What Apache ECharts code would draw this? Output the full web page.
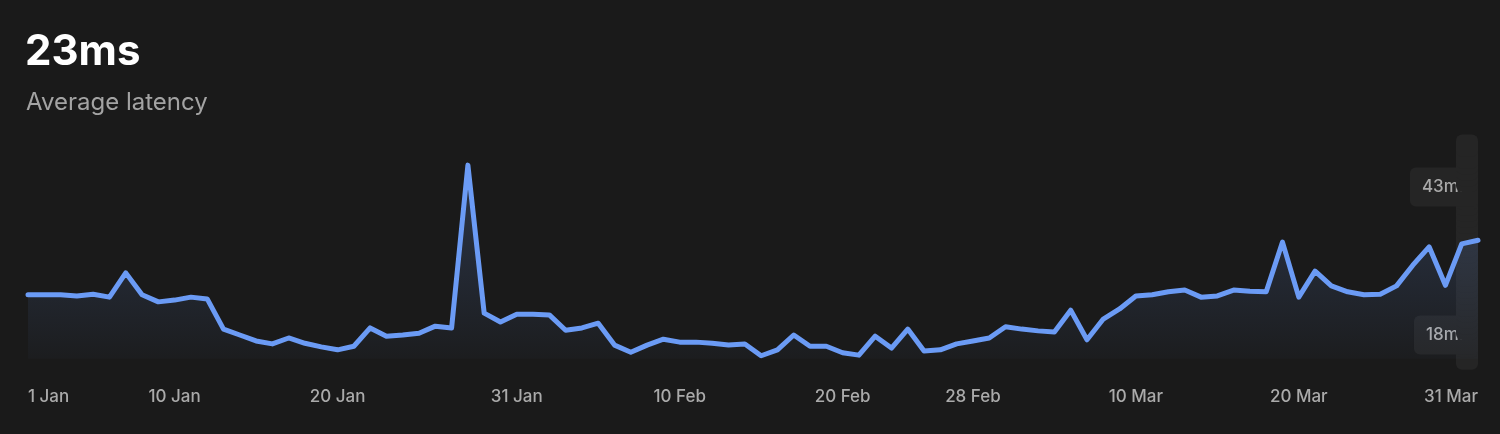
<!DOCTYPE html>
<html><head><meta charset="utf-8">
<script src="https://cdn.jsdelivr.net/npm/echarts@6/dist/echarts.min.js"></script>
<style>html,body{margin:0;padding:0;background:#1a1a1a;}#c{width:1500px;height:434px;}</style>
</head><body><div id="c"></div>
<script>
const months = ['Jan','Feb','Mar'];
const monthDays = [31, 28, 31];
const latency = [24.8,24.8,24.8,24.6,24.9,24.4,28.5,24.8,23.6,23.9,24.4,24.1,19.0,18.0,17.0,16.5,17.5,16.6,16.0,15.5,
16.1,19.2,17.8,18.0,18.3,19.5,19.2,46.7,21.7,20.2,21.5,21.5,21.4,18.8,19.2,20.0,16.3,15.1,16.3,17.3,
16.8,16.8,16.6,16.3,16.5,14.5,15.5,18.0,16.1,16.1,15.0,14.6,17.8,15.8,19.0,15.3,15.5,16.5,17.0,17.5,
19.4,19.0,18.7,18.5,22.2,17.2,20.7,22.4,24.6,24.8,25.3,25.6,24.4,24.6,25.6,25.4,25.3,33.7,24.4,28.8,
26.3,25.3,24.8,24.9,26.3,29.8,32.9,26.4,33.4,34.0];
const shownLabels = ['1 Jan','10 Jan','20 Jan','31 Jan','10 Feb','20 Feb','28 Feb','10 Mar','20 Mar','31 Mar'];
const yMarks = [18, 43];
const categories = [];
months.forEach((m,i)=>{for(let d=1;d<=monthDays[i];d++)categories.push(d+' '+m);});

const chart = echarts.init(document.getElementById('c'));
chart.setOption({
  backgroundColor:'#1a1a1a',
  animation:false,
  title:[
    {text:'23ms',left:20,top:26,textStyle:{color:'#ffffff',fontSize:42,fontWeight:'bold',fontFamily:'Inter'}},
    {text:'Average latency',left:21,top:86,textStyle:{color:'#a3a3a3',fontSize:24,fontWeight:'normal',fontFamily:'Inter'}}
  ],
  grid:{left:28,right:22,top:145.6,bottom:75.3},
  xAxis:{type:'category',data:categories,boundaryGap:false,
    axisLine:{show:false},axisTick:{show:false},splitLine:{show:false},
    axisLabel:{interval:(i,v)=>shownLabels.includes(v),color:'#aaaaaa',fontSize:17,fontWeight:500,fontFamily:'Inter',
      margin:30,alignMinLabel:'left',alignMaxLabel:'right',hideOverlap:false}},
  yAxis:{type:'value',position:'right',min:14,max:50,interval:1,
    axisLine:{show:false},axisTick:{show:false},splitLine:{show:false},
    axisLabel:{inside:true,margin:0,showMinLabel:true,showMaxLabel:true,
      formatter:v=>yMarks.includes(v)?v+'ms':'',
      color:'#aaaaaa',fontSize:17,fontWeight:500,fontFamily:'Inter',
      backgroundColor:'#252525',borderRadius:6,padding:[11,10,11,12]}},
  series:[{type:'line',data:latency,symbol:'none',
    lineStyle:{color:'#6b9bf5',width:5,cap:'round',join:'round'},
    itemStyle:{color:'#6b9bf5'},
    areaStyle:{color:new echarts.graphic.LinearGradient(0,0,0,1,[{offset:0,color:'rgba(107,155,245,0.32)'},{offset:1,color:'rgba(107,155,245,0.03)'}])}}]
});
</script></body></html>
